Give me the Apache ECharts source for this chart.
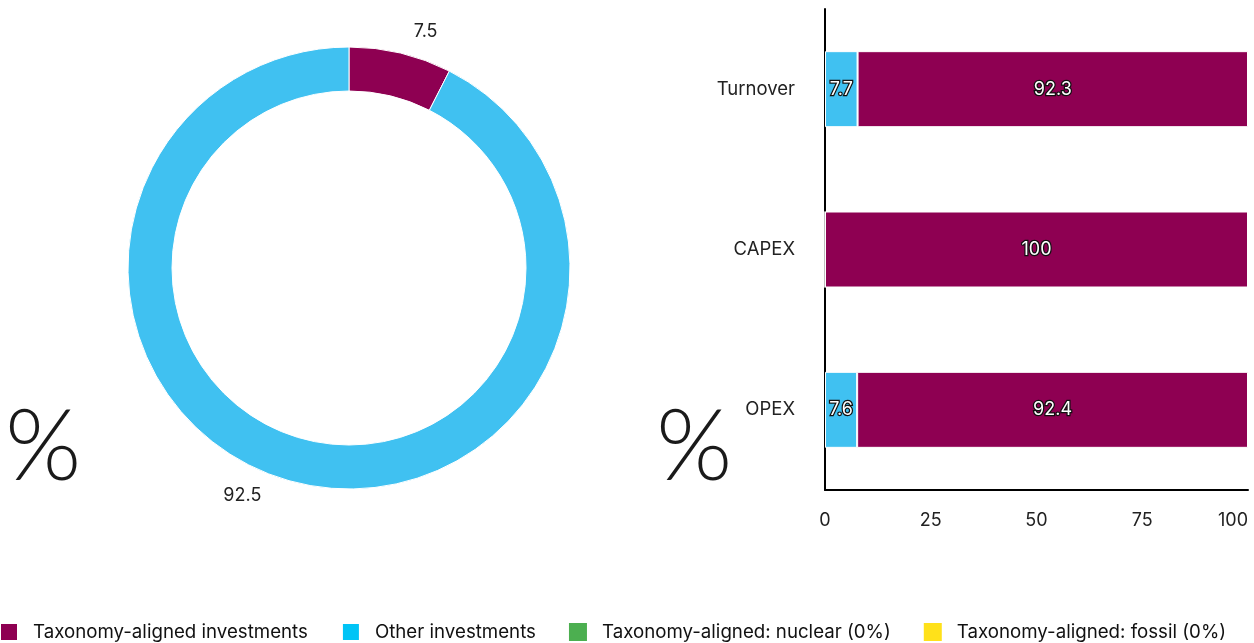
<!DOCTYPE html>
<html>
<head>
<meta charset="utf-8">
<script src="https://cdn.jsdelivr.net/npm/echarts@6/dist/echarts.min.js"></script>
<style>
html,body{margin:0;padding:0;background:#fff;}
#c{width:1254px;height:643px;}
</style>
</head>
<body>
<div id="c"></div>
<script>
const pieNames = ['Taxonomy-aligned investments', 'Other investments'];
const pieValues = [7.5, 92.5];
const categories = ['Turnover', 'CAPEX', 'OPEX'];
const otherValues = [7.7, 0, 7.6];
const alignedValues = [92.3, 100, 92.4];
const xTicks = [0, 25, 50, 75, 100];
const legendNames = ['Taxonomy-aligned investments', 'Other investments', 'Taxonomy-aligned: nuclear (0%)', 'Taxonomy-aligned: fossil (0%)'];

const MAGENTA = '#8E0052';
const CYAN = '#40C1F1';
const LEG_CYAN = '#00C4F6';
const GREEN = '#4CAF50';
const YELLOW = '#FFE11A';
const FONT = 'Inter, "Noto Sans", sans-serif';

const chart = echarts.init(document.getElementById('c'));

const labelLines = [
  {length: 22, length2: 3},
  {length: 13, length2: 28}
];

const barLabel = {
  show: true,
  position: 'inside',
  color: '#fff',
  fontSize: 18,
  fontFamily: FONT,
  textBorderColor: '#111',
  textBorderWidth: 2.5,
  formatter: p => (p.value ? String(p.value) : '')
};

chart.setOption({
  animation: false,
  legend: {
    left: -6,
    bottom: -4,
    itemWidth: 18,
    itemHeight: 18,
    itemGap: 33,
    icon: 'rect',
    textStyle: {fontSize: 18.7, color: '#111', fontFamily: FONT, padding: [0, 0, 0, 10]},
    data: [
      {name: legendNames[0], itemStyle: {color: MAGENTA}},
      {name: legendNames[1], itemStyle: {color: LEG_CYAN}},
      {name: legendNames[2], itemStyle: {color: GREEN}},
      {name: legendNames[3], itemStyle: {color: YELLOW}}
    ]
  },
  graphic: [
    {type: 'text', left: 5, top: 399, style: {text: '%', fontSize: 98, fontWeight: 300, fontFamily: 'Lato, Inter, sans-serif', fill: '#1a1a1a'}},
    {type: 'text', left: 656, top: 399, style: {text: '%', fontSize: 98, fontWeight: 300, fontFamily: 'Lato, Inter, sans-serif', fill: '#1a1a1a'}}
  ],
  grid: {left: 825, right: 6, top: 9, bottom: 153, containLabel: false, outerBoundsMode: 'none'},
  xAxis: {
    type: 'value',
    min: 0, max: 100, interval: 25,
    axisLine: {show: true, lineStyle: {color: '#000', width: 2}},
    axisTick: {show: false},
    splitLine: {show: false},
    axisLabel: {fontSize: 18, color: '#222', fontFamily: FONT, margin: 22, alignMaxLabel: 'right',
      formatter: v => xTicks.includes(v) ? String(v) : ''}
  },
  yAxis: {
    type: 'category',
    data: categories,
    inverse: true,
    axisLine: {show: true, lineStyle: {color: '#000', width: 2}},
    axisTick: {show: false},
    axisLabel: {fontSize: 18.5, color: '#222', fontFamily: FONT, margin: 30}
  },
  series: [
    {
      type: 'pie',
      name: 'pie',
      center: [349, 268],
      radius: [177, 221],
      startAngle: 90,
      clockwise: true,
      avoidLabelOverlap: false,
      itemStyle: {borderColor: '#fff', borderWidth: 1},
      label: {show: true, position: 'outside', fontSize: 18, color: '#222', fontFamily: FONT, formatter: '{c}'},
      labelLine: {show: false},
      emphasis: {disabled: true},
      data: pieNames.map((n, i) => ({
        name: n,
        value: pieValues[i],
        itemStyle: {color: i === 0 ? MAGENTA : CYAN},
        labelLine: Object.assign({show: false}, labelLines[i])
      }))
    },
    {
      type: 'bar',
      name: legendNames[1],
      stack: 's',
      barWidth: 76,
      data: otherValues,
      itemStyle: {color: CYAN, borderColor: '#fff', borderWidth: 1},
      label: barLabel
    },
    {
      type: 'bar',
      name: legendNames[0],
      stack: 's',
      data: alignedValues,
      itemStyle: {color: MAGENTA, borderColor: '#fff', borderWidth: 1},
      label: barLabel
    },
    {
      type: 'bar',
      name: legendNames[2],
      stack: 's',
      data: [0, 0, 0],
      itemStyle: {color: GREEN},
      label: {show: false}
    },
    {
      type: 'bar',
      name: legendNames[3],
      stack: 's',
      data: [0, 0, 0],
      itemStyle: {color: YELLOW},
      label: {show: false}
    }
  ]
});
</script>
</body>
</html>
